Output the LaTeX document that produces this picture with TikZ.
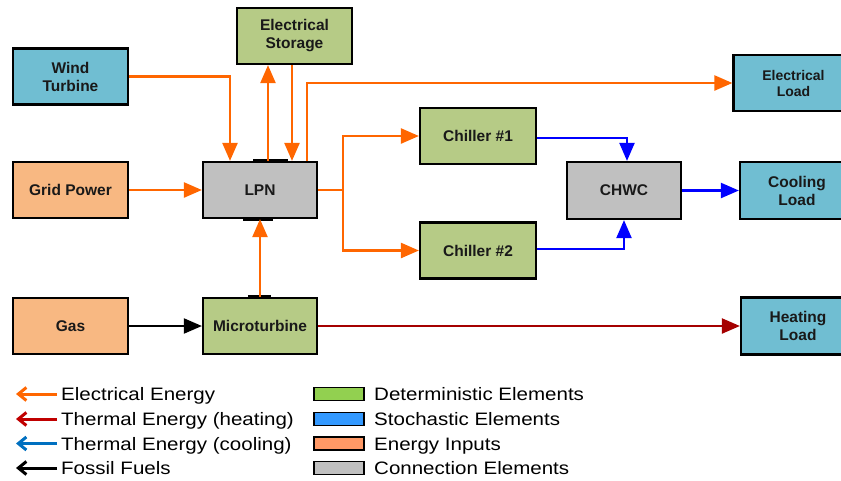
\documentclass[tikz,border=0pt]{standalone}
\usepackage{fontspec}
\setmainfont{Liberation Sans}
\newfontfamily\legfont[FakeStretch=1.14]{Liberation Sans}
\usetikzlibrary{arrows.meta}
\definecolor{grn}{RGB}{182,203,134}
\definecolor{blu}{RGB}{112,190,210}
\definecolor{pch}{RGB}{248,184,130}
\definecolor{gry}{RGB}{192,192,192}
\definecolor{org}{RGB}{255,102,0}
\definecolor{drd}{RGB}{165,0,0}
\definecolor{lgrn}{RGB}{146,208,80}
\definecolor{lblu}{RGB}{51,153,255}
\definecolor{lorg}{RGB}{255,153,102}
\definecolor{lred}{RGB}{192,0,0}
\definecolor{lcyan}{RGB}{0,112,192}
\tikzset{
  box/.style={draw=black, line width=2.2pt, text=black!90, align=center, inner sep=0pt,
    font=\fontsize{15.5}{18}\selectfont\bfseries, minimum width=115pt, minimum height=56pt},
  tip/.style={-{Triangle[length=18pt,width=15pt]}},
  ea/.style={tip, draw=org, line width=2.4pt},
  oline/.style={draw=org, line width=2.4pt},
  ba/.style={tip, draw=blue, line width=2.2pt},
  ra/.style={tip, draw=drd, line width=2.2pt},
  ka/.style={tip, draw=black, line width=2pt},
  port/.style={draw=black, line width=3.5pt},
  legarrow/.style={-{Straight Barb[length=8pt,width=13pt]}, line width=3pt},
  legtext/.style={anchor=base west, inner sep=0pt, font=\legfont\fontsize{18}{20}\selectfont},
  swatch/.style={draw=black, line width=1.5pt, minimum width=50pt, minimum height=13pt, inner sep=0pt}
}
\begin{document}
\begin{tikzpicture}[x=1pt,y=-1pt]
\useasboundingbox (0,0) rectangle (841,480);
\clip (0,0) rectangle (841,480);
% boxes
\node[box, fill=blu] (wind) at (70.5,76.5) {Wind\\Turbine};
\node[box, fill=pch] (grid) at (70.5,190) {Grid Power};
\node[box, fill=pch] (gas) at (70.5,326) {Gas};
\node[box, fill=grn] (stor) at (294.5,36) {Electrical\\Storage};
\node[box, fill=gry, minimum width=114pt] (lpn) at (260,190) {LPN};
\node[box, fill=grn, minimum width=114pt] (micro) at (260,326) {Microturbine};
\node[box, fill=grn, minimum width=116pt] (ch1) at (478,136) {Chiller \#1};
\node[box, fill=grn, minimum width=116pt] (ch2) at (478,250.5) {Chiller \#2};
\node[box, fill=gry, minimum width=114pt, minimum height=57pt] (chwc) at (624,190.5) {CHWC};
\node[box, fill=blu, minimum width=120pt, font=\fontsize{14}{16}\selectfont\bfseries] (eload) at (793.5,83) {Electrical\\Load};
\node[box, fill=blu, minimum width=114pt, minimum height=57pt] (cload) at (797,190.5) {Cooling\\Load};
\node[box, fill=blu, minimum width=114pt, minimum height=57pt] (hload) at (798,326) {Heating\\Load};
% ports
\draw[port] ([xshift=-7pt]lpn.north) -- ([xshift=28pt]lpn.north);
\draw[port] ([xshift=-17pt]lpn.south) -- ([xshift=13pt]lpn.south);
\draw[port] ([xshift=-12pt]micro.north) -- ([xshift=11pt]micro.north);
% electrical connectors
\draw[ea] (wind.east) -| ([xshift=-30pt]lpn.north);
\draw[ea] (grid.east) -- (lpn.west);
\draw[ea] ([xshift=8pt]lpn.north) -- ([xshift=8pt]lpn.north |- stor.south);
\draw[ea] ([xshift=32pt]lpn.north |- stor.south) -- ([xshift=32pt]lpn.north);
\draw[ea] ([xshift=47pt]lpn.north) |- (eload.west);
\coordinate (j) at ([xshift=25pt]lpn.east);
\draw[oline] (lpn.east) -- (j);
\draw[ea] (j) |- (ch1.west);
\draw[ea] (j) |- (ch2.west);
\draw[ea] (micro.north) -- (lpn.south);
% fuel and heat
\draw[ka] (gas.east) -- (micro.west);
\draw[ra] (micro.east) -- (hload.west);
% cooling
\draw[ba] ([yshift=-2pt]ch1.east) -| ([xshift=3pt]chwc.north);
\draw[ba] ([yshift=1.5pt]ch2.east) -| (chwc.south);
\draw[ba] (chwc.east) -- (cload.west);
% legend arrows
\coordinate (a1s) at (57,394); \coordinate (a1e) at (16,394);
\coordinate (a2s) at (57,419); \coordinate (a2e) at (16,419);
\coordinate (a3s) at (57,443.5); \coordinate (a3e) at (16,443.5);
\coordinate (a4s) at (57,468); \coordinate (a4e) at (16,468);
\draw[legarrow, draw=org] (a1s) -- (a1e);
\draw[legarrow, draw=lred] (a2s) -- (a2e);
\draw[legarrow, draw=lcyan] (a3s) -- (a3e);
\draw[legarrow, draw=black] (a4s) -- (a4e);
\node[legtext] (t1) at (61,400.5) {Electrical Energy};
\node[legtext] (t2) at (61,425.5) {Thermal Energy (heating)};
\node[legtext] (t3) at (61,450) {Thermal Energy (cooling)};
\node[legtext] (t4) at (61,474.5) {Fossil Fuels};
% legend swatches
\node[swatch, fill=lgrn] (s1) at (339,394) {};
\node[swatch, fill=lblu] (s2) at (339,419) {};
\node[swatch, fill=lorg] (s3) at (339,443.5) {};
\node[swatch, fill=gry] (s4) at (339,468) {};
\node[legtext] (u1) at (374,400.5) {Deterministic Elements};
\node[legtext] (u2) at (374,425.5) {Stochastic Elements};
\node[legtext] (u3) at (374,450) {Energy Inputs};
\node[legtext] (u4) at (374,474.5) {Connection Elements};
\end{tikzpicture}
\end{document}
